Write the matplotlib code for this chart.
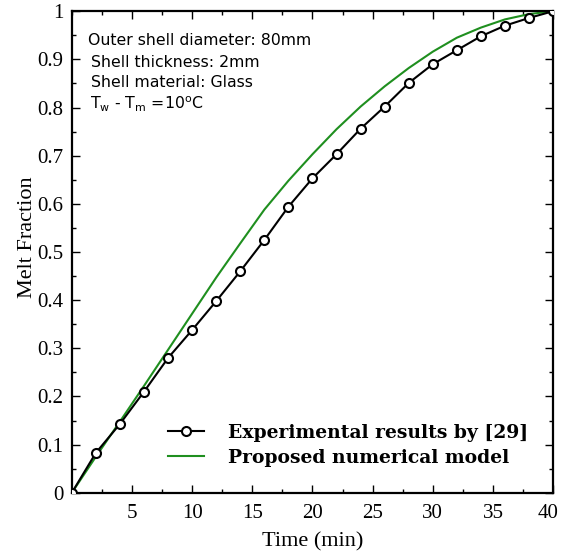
import matplotlib
matplotlib.use('Agg')
import matplotlib.pyplot as plt
import matplotlib.transforms as mtransforms
from matplotlib.ticker import MultipleLocator, FixedLocator

# experimental points (every 2 min)
exp_time = [0, 2, 4, 6, 8, 10, 12, 14, 16, 18, 20, 22, 24, 26, 28, 30, 32, 34, 36, 38, 40]
exp_melt = [0.0, 0.083, 0.143, 0.21, 0.28, 0.338, 0.398, 0.46, 0.525, 0.594, 0.653,
            0.703, 0.756, 0.802, 0.851, 0.89, 0.919, 0.948, 0.970, 0.986, 1.0]

# numerical model curve
num_time = [0, 2, 4, 6, 8, 10, 12, 14, 16, 18, 20, 22, 24, 26, 28, 30, 32, 34, 36, 38, 40]
num_melt = [0.0, 0.075, 0.148, 0.222, 0.297, 0.372, 0.447, 0.518, 0.588, 0.648, 0.703,
            0.755, 0.802, 0.844, 0.882, 0.916, 0.945, 0.966, 0.983, 0.994, 1.0]

xticks = [5, 10, 15, 20, 25, 30, 35, 40]
yticks = [0, 0.1, 0.2, 0.3, 0.4, 0.5, 0.6, 0.7, 0.8, 0.9, 1]
ytick_labels = ['0', '0.1', '0.2', '0.3', '0.4', '0.5', '0.6', '0.7', '0.8', '0.9', '1']

info_lines = ['Outer shell diameter: 80mm',
              'Shell thickness: 2mm',
              'Shell material: Glass',
              r'T$_\mathregular{w}$ - T$_\mathregular{m}$ =10$^\mathregular{o}$C']

fig = plt.figure(figsize=(5.61, 5.60), dpi=100)
ax = fig.add_axes([0.128, 0.12, 0.858, 0.86])

ax.plot(exp_time, exp_melt, color='black', lw=1.5, marker='o', ms=6.5,
        mfc='white', mec='black', mew=1.5, label='Experimental results by [29]', zorder=3)
ax.plot(num_time, num_melt, color='#1f8f1f', lw=1.5, label='Proposed numerical model', zorder=2)

ax.set_xlim(0, 40)
ax.set_ylim(0, 1)
ax.xaxis.set_major_locator(FixedLocator(xticks))
ax.xaxis.set_minor_locator(MultipleLocator(2.5))
ax.yaxis.set_major_locator(FixedLocator(yticks))
ax.yaxis.set_minor_locator(MultipleLocator(0.05))
ax.set_yticklabels(ytick_labels)
ax.tick_params(which='both', direction='in', top=True, right=True, width=1)
ax.tick_params(which='major', length=6, labelsize=15)
ax.tick_params(axis='x', which='major', pad=8)
ax.tick_params(axis='y', which='major', pad=6)
ax.tick_params(which='minor', length=3)
for lab in ax.get_xticklabels() + ax.get_yticklabels():
    lab.set_family('Liberation Serif')
# keep the last x label inside the figure
last = ax.get_xticklabels()[-1]
last.set_transform(last.get_transform() + mtransforms.ScaledTranslation(-5 / 100, 0, fig.dpi_scale_trans))
for s in ax.spines.values():
    s.set_linewidth(1.6)

ax.set_xlabel('Time (min)', family='Liberation Serif', fontsize=16, labelpad=7)
ax.set_ylabel('Melt Fraction', family='Liberation Serif', fontsize=16)
ax.yaxis.set_label_coords(-0.072, 0.53)

ys = [0.929, 0.884, 0.842, 0.797]
xs = [0.033, 0.039, 0.039, 0.037]
for t, x, y in zip(info_lines, xs, ys):
    ax.text(x, y, t, transform=ax.transAxes, fontsize=11.3, family='DejaVu Sans', va='baseline')

leg = ax.legend(loc='lower right', bbox_to_anchor=(0.964, 0.039), borderaxespad=0, frameon=False,
                prop={'family': 'DejaVu Serif', 'weight': 'bold', 'size': 13.5},
                handlelength=1.9, handletextpad=1.3, labelspacing=0.35)

fig.savefig('out.png', dpi=100)
